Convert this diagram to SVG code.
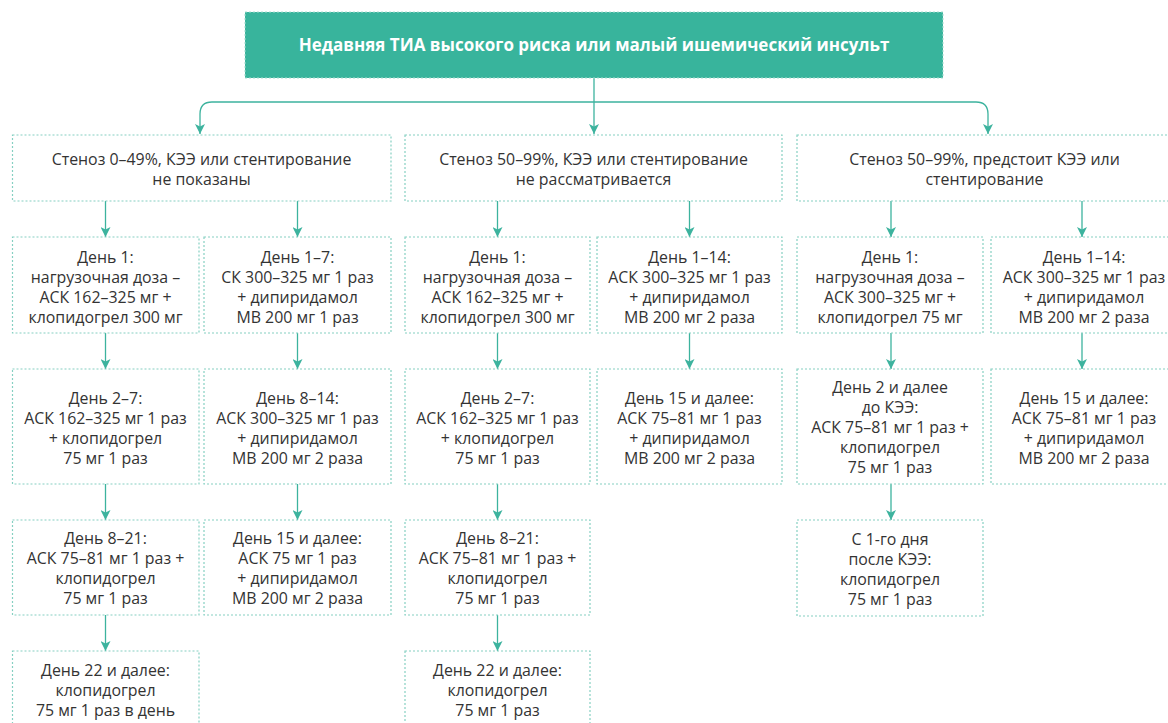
<svg xmlns="http://www.w3.org/2000/svg" width="1168" height="723" viewBox="0 0 1168 723">
<style>
.bg{fill:#ffffff}
.box{fill:#ffffff;stroke:#86d0c2;stroke-width:1.2;stroke-dasharray:2 2}
.top{fill:#38b49c;stroke:#a6dccf;stroke-width:1;stroke-dasharray:2 2}
.t{font-family:"Open Sans","Noto Sans","DejaVu Sans",sans-serif;font-size:15.9px;fill:#333333;text-anchor:middle}
.tt{font-family:"Open Sans","Noto Sans","DejaVu Sans",sans-serif;font-size:17px;font-weight:bold;fill:#ffffff;text-anchor:middle}
.c{fill:none;stroke:#3db39e;stroke-width:1.3}
</style>
<defs>
<marker id="ah" markerUnits="userSpaceOnUse" markerWidth="10" markerHeight="10" viewBox="0 0 10 10" refX="10" refY="5" orient="auto">
<path d="M0,0 L10,5 L0,10 L2.5,5 z" fill="#3db39e"/>
</marker>
</defs>
<rect class="bg" x="0" y="0" width="1168" height="723"/>

<g id="connectors">
<path class="c" d="M594,78 V134" marker-end="url(#ah)"/>
<path class="c" d="M594,102 H212 Q200,102 200,114 V134" marker-end="url(#ah)"/>
<path class="c" d="M594,102 H976 Q988,102 988,114 V134" marker-end="url(#ah)"/>
<path class="c" d="M105.5,201 V237" marker-end="url(#ah)"/>
<path class="c" d="M297.5,201 V237" marker-end="url(#ah)"/>
<path class="c" d="M105.5,333 V369" marker-end="url(#ah)"/>
<path class="c" d="M297.5,333 V369" marker-end="url(#ah)"/>
<path class="c" d="M105.5,484 V520" marker-end="url(#ah)"/>
<path class="c" d="M297.5,484 V520" marker-end="url(#ah)"/>
<path class="c" d="M105.5,615 V651" marker-end="url(#ah)"/>
<path class="c" d="M497.5,201 V237" marker-end="url(#ah)"/>
<path class="c" d="M689.5,201 V237" marker-end="url(#ah)"/>
<path class="c" d="M497.5,333 V369" marker-end="url(#ah)"/>
<path class="c" d="M689.5,333 V369" marker-end="url(#ah)"/>
<path class="c" d="M497.5,484 V520" marker-end="url(#ah)"/>
<path class="c" d="M497.5,615 V651" marker-end="url(#ah)"/>
<path class="c" d="M891,201 V237" marker-end="url(#ah)"/>
<path class="c" d="M1082,201 V237" marker-end="url(#ah)"/>
<path class="c" d="M891,333 V369" marker-end="url(#ah)"/>
<path class="c" d="M1082,333 V369" marker-end="url(#ah)"/>
<path class="c" d="M891,484 V520" marker-end="url(#ah)"/>
</g>

<g id="root">
<rect class="top" x="245" y="12" width="698" height="66"/>
<text class="tt" x="594" y="51">Недавняя ТИА высокого риска или малый ишемический инсульт</text>
</g>

<g id="c1">
<rect class="box" x="12.5" y="135" width="378.5" height="66"/>
<text class="t"><tspan x="201.5" y="165">Стеноз 0–49%, КЭЭ или стентирование</tspan><tspan x="201.5" y="185">не показаны</tspan></text>
</g>
<g id="c2">
<rect class="box" x="405" y="135" width="377" height="66"/>
<text class="t"><tspan x="593.5" y="165">Стеноз 50–99%, КЭЭ или стентирование</tspan><tspan x="593.5" y="185">не рассматривается</tspan></text>
</g>
<g id="c3">
<rect class="box" x="797" y="135" width="375" height="66"/>
<text class="t"><tspan x="984.5" y="165">Стеноз 50–99%, предстоит КЭЭ или</tspan><tspan x="984.5" y="185">стентирование</tspan></text>
</g>

<g id="c1a1">
<rect class="box" x="12.5" y="237" width="186.5" height="96"/>
<text class="t"><tspan x="105.5" y="263">День 1:</tspan><tspan x="105.5" y="283">нагрузочная доза –</tspan><tspan x="105.5" y="303">АСК 162–325 мг +</tspan><tspan x="105.5" y="323">клопидогрел 300 мг</tspan></text>
</g>
<g id="c1a2">
<rect class="box" x="12.5" y="369" width="186.5" height="115"/>
<text class="t"><tspan x="105.5" y="403.5">День 2–7:</tspan><tspan x="105.5" y="423.5">АСК 162–325 мг 1 раз</tspan><tspan x="105.5" y="443.5">+ клопидогрел</tspan><tspan x="105.5" y="463.5">75 мг 1 раз</tspan></text>
</g>
<g id="c1a3">
<rect class="box" x="12.5" y="520" width="186.5" height="95"/>
<text class="t"><tspan x="105.5" y="544">День 8–21:</tspan><tspan x="105.5" y="564">АСК 75–81 мг 1 раз +</tspan><tspan x="105.5" y="584">клопидогрел</tspan><tspan x="105.5" y="604">75 мг 1 раз</tspan></text>
</g>
<g id="c1a4">
<rect class="box" x="12.5" y="651" width="186.5" height="80"/>
<text class="t"><tspan x="105.5" y="676">День 22 и далее:</tspan><tspan x="105.5" y="696">клопидогрел</tspan><tspan x="105.5" y="716">75 мг 1 раз в день</tspan></text>
</g>

<g id="c1b1">
<rect class="box" x="204" y="237" width="187" height="96"/>
<text class="t"><tspan x="297.5" y="263">День 1–7:</tspan><tspan x="297.5" y="283">СК 300–325 мг 1 раз</tspan><tspan x="297.5" y="303">+ дипиридамол</tspan><tspan x="297.5" y="323">МВ 200 мг 1 раз</tspan></text>
</g>
<g id="c1b2">
<rect class="box" x="204" y="369" width="187" height="115"/>
<text class="t"><tspan x="297.5" y="403.5">День 8–14:</tspan><tspan x="297.5" y="423.5">АСК 300–325 мг 1 раз</tspan><tspan x="297.5" y="443.5">+ дипиридамол</tspan><tspan x="297.5" y="463.5">МВ 200 мг 2 раза</tspan></text>
</g>
<g id="c1b3">
<rect class="box" x="204" y="520" width="187" height="95"/>
<text class="t"><tspan x="297.5" y="544">День 15 и далее:</tspan><tspan x="297.5" y="564">АСК 75 мг 1 раз</tspan><tspan x="297.5" y="584">+ дипиридамол</tspan><tspan x="297.5" y="604">МВ 200 мг 2 раза</tspan></text>
</g>

<g id="c2a1">
<rect class="box" x="405" y="237" width="185" height="96"/>
<text class="t"><tspan x="497.5" y="263">День 1:</tspan><tspan x="497.5" y="283">нагрузочная доза –</tspan><tspan x="497.5" y="303">АСК 162–325 мг +</tspan><tspan x="497.5" y="323">клопидогрел 300 мг</tspan></text>
</g>
<g id="c2a2">
<rect class="box" x="405" y="369" width="185" height="115"/>
<text class="t"><tspan x="497.5" y="403.5">День 2–7:</tspan><tspan x="497.5" y="423.5">АСК 162–325 мг 1 раз</tspan><tspan x="497.5" y="443.5">+ клопидогрел</tspan><tspan x="497.5" y="463.5">75 мг 1 раз</tspan></text>
</g>
<g id="c2a3">
<rect class="box" x="405" y="520" width="185" height="95"/>
<text class="t"><tspan x="497.5" y="544">День 8–21:</tspan><tspan x="497.5" y="564">АСК 75–81 мг 1 раз +</tspan><tspan x="497.5" y="584">клопидогрел</tspan><tspan x="497.5" y="604">75 мг 1 раз</tspan></text>
</g>
<g id="c2a4">
<rect class="box" x="405" y="651" width="185" height="80"/>
<text class="t"><tspan x="497.5" y="676">День 22 и далее:</tspan><tspan x="497.5" y="696">клопидогрел</tspan><tspan x="497.5" y="716">75 мг 1 раз</tspan></text>
</g>

<g id="c2b1">
<rect class="box" x="597" y="237" width="185" height="96"/>
<text class="t"><tspan x="689.5" y="263">День 1–14:</tspan><tspan x="689.5" y="283">АСК 300–325 мг 1 раз</tspan><tspan x="689.5" y="303">+ дипиридамол</tspan><tspan x="689.5" y="323">МВ 200 мг 2 раза</tspan></text>
</g>
<g id="c2b2">
<rect class="box" x="597" y="369" width="185" height="115"/>
<text class="t"><tspan x="689.5" y="403.5">День 15 и далее:</tspan><tspan x="689.5" y="423.5">АСК 75–81 мг 1 раз</tspan><tspan x="689.5" y="443.5">+ дипиридамол</tspan><tspan x="689.5" y="463.5">МВ 200 мг 2 раза</tspan></text>
</g>

<g id="c3a1">
<rect class="box" x="797" y="237" width="186" height="96"/>
<text class="t"><tspan x="890" y="263">День 1:</tspan><tspan x="890" y="283">нагрузочная доза –</tspan><tspan x="890" y="303">АСК 300–325 мг +</tspan><tspan x="890" y="323">клопидогрел 75 мг</tspan></text>
</g>
<g id="c3a2">
<rect class="box" x="797" y="369" width="186" height="115"/>
<text class="t"><tspan x="890" y="393">День 2 и далее</tspan><tspan x="890" y="413">до КЭЭ:</tspan><tspan x="890" y="433">АСК 75–81 мг 1 раз +</tspan><tspan x="890" y="453">клопидогрел</tspan><tspan x="890" y="473">75 мг 1 раз</tspan></text>
</g>
<g id="c3a3">
<rect class="box" x="797" y="520" width="186" height="96"/>
<text class="t"><tspan x="890" y="545">С 1-го дня</tspan><tspan x="890" y="565">после КЭЭ:</tspan><tspan x="890" y="585">клопидогрел</tspan><tspan x="890" y="605">75 мг 1 раз</tspan></text>
</g>

<g id="c3b1">
<rect class="box" x="991" y="237" width="186" height="96"/>
<text class="t"><tspan x="1084" y="263">День 1–14:</tspan><tspan x="1084" y="283">АСК 300–325 мг 1 раз</tspan><tspan x="1084" y="303">+ дипиридамол</tspan><tspan x="1084" y="323">МВ 200 мг 2 раза</tspan></text>
</g>
<g id="c3b2">
<rect class="box" x="991" y="369" width="186" height="115"/>
<text class="t"><tspan x="1084" y="403.5">День 15 и далее:</tspan><tspan x="1084" y="423.5">АСК 75–81 мг 1 раз</tspan><tspan x="1084" y="443.5">+ дипиридамол</tspan><tspan x="1084" y="463.5">МВ 200 мг 2 раза</tspan></text>
</g>
</svg>
